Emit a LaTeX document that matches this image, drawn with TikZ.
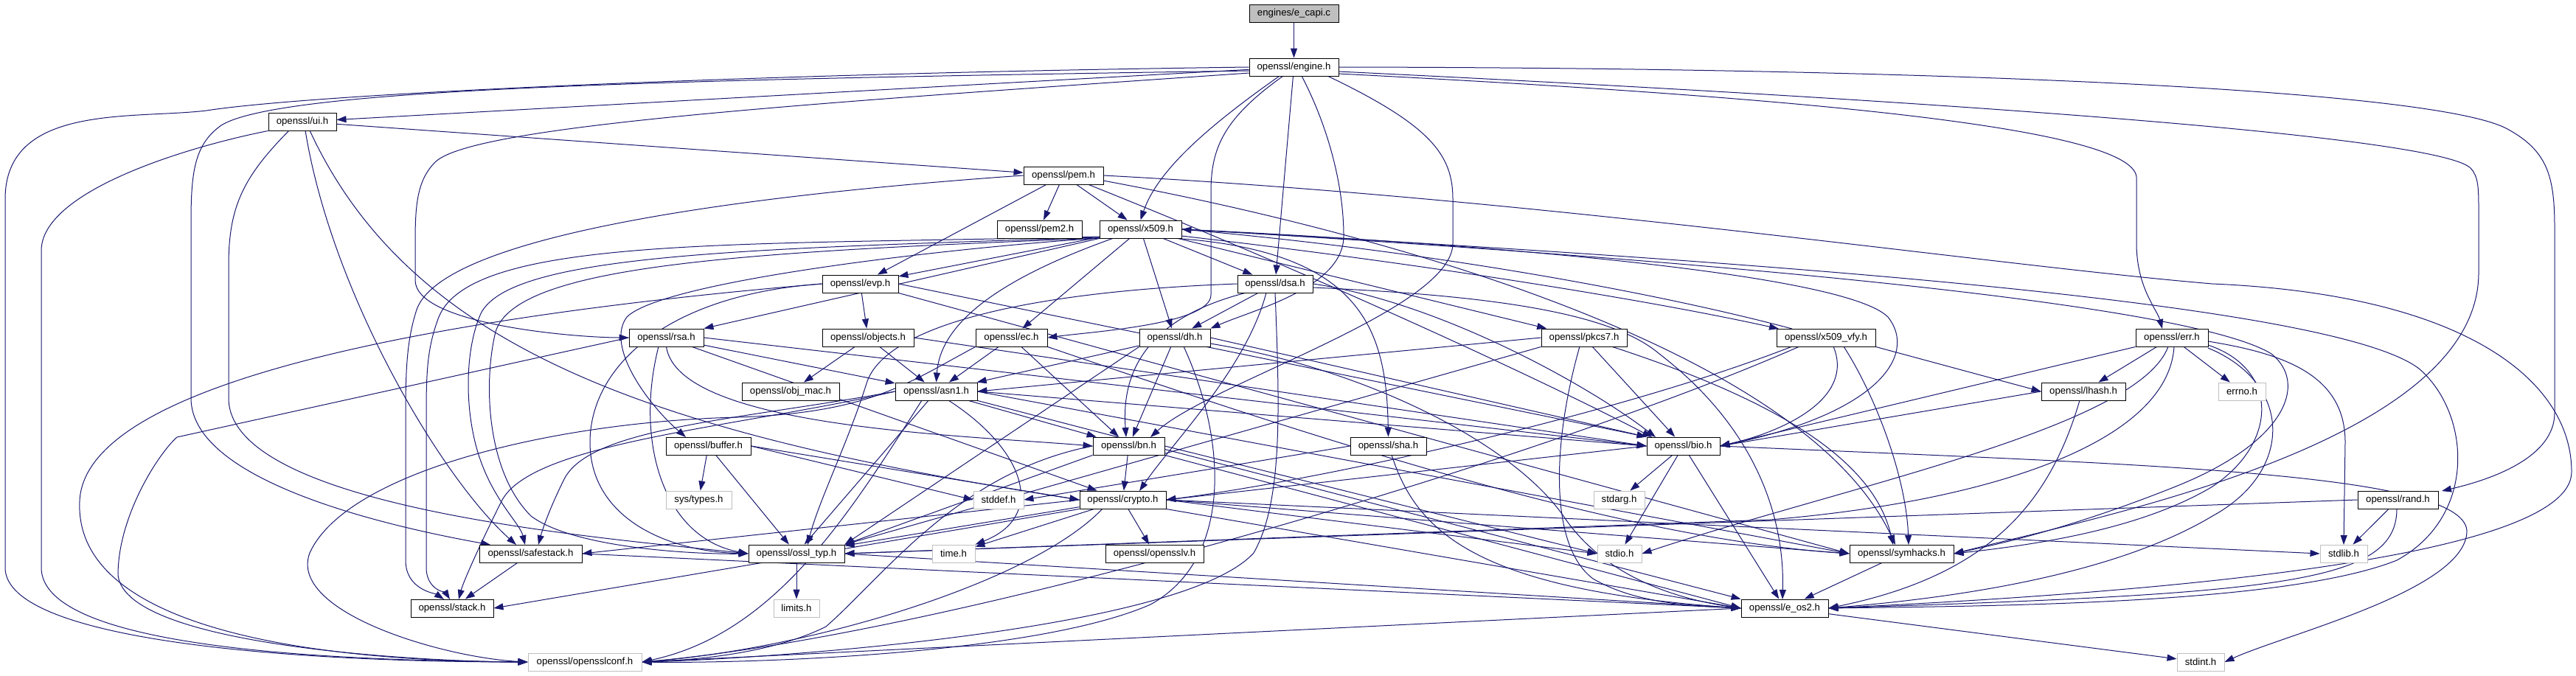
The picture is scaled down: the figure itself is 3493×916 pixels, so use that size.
\documentclass[tikz,border=0pt]{standalone}
\usepackage{fontspec}
\setmainfont{Liberation Sans}
\usetikzlibrary{arrows.meta}
\definecolor{edgec}{HTML}{191970}
\definecolor{lgray}{HTML}{BFBFBF}
\pgfdeclarelayer{bg}
\pgfsetlayers{bg,main}
\tikzset{
  nbox/.style={draw=black, line width=0.9pt, fill=white, minimum height=24pt, inner sep=0pt, font=\fontsize{13.2}{15}\selectfont},
  sysbox/.style={nbox, draw=lgray},
  rootbox/.style={nbox, fill=lgray},
  lnk/.style={draw=edgec, line width=1.0pt, -{Triangle[length=13pt,width=9pt]}},
}
\newcommand\mknode[6]{\node[#6, minimum width=#4pt] (#1) at (#2,#3) {#5};}
\begin{document}
\begin{tikzpicture}[x=1pt,y=-1pt]
\useasboundingbox (0,0) rectangle (3493,916);
% nodes
\mknode{capi}{1754.5}{18}{121}{engines/e\_capi.c}{rootbox}
\mknode{engine}{1754.5}{91}{121}{openssl/engine.h}{nbox}
\mknode{ui}{410}{165}{92}{openssl/ui.h}{nbox}
\mknode{pem}{1442}{238}{108}{openssl/pem.h}{nbox}
\mknode{pemtwo}{1409.5}{311}{115}{openssl/pem2.h}{nbox}
\mknode{xfive}{1546.5}{311}{111}{openssl/x509.h}{nbox}
\mknode{evp}{1166.5}{385}{103}{openssl/evp.h}{nbox}
\mknode{dsa}{1729}{385}{102}{openssl/dsa.h}{nbox}
\mknode{rsa}{903.5}{458}{101}{openssl/rsa.h}{nbox}
\mknode{objects}{1177}{458}{124}{openssl/objects.h}{nbox}
\mknode{ec}{1371.5}{458}{97}{openssl/ec.h}{nbox}
\mknode{dh}{1593}{458}{96}{openssl/dh.h}{nbox}
\mknode{pkcs}{2148}{458}{116}{openssl/pkcs7.h}{nbox}
\mknode{xvfy}{2476}{458}{134}{openssl/x509\_vfy.h}{nbox}
\mknode{err}{2945}{458}{98}{openssl/err.h}{nbox}
\mknode{objmac}{1072}{531}{132}{openssl/obj\_mac.h}{nbox}
\mknode{asn}{1269.5}{531}{111}{openssl/asn1.h}{nbox}
\mknode{lhash}{2825}{531}{114}{openssl/lhash.h}{nbox}
\mknode{errno}{3040}{531}{64}{errno.h}{sysbox}
\mknode{buffer}{960.5}{605}{115}{openssl/buffer.h}{nbox}
\mknode{bn}{1530.5}{605}{97}{openssl/bn.h}{nbox}
\mknode{sha}{1882.5}{605}{103}{openssl/sha.h}{nbox}
\mknode{bio}{2282.5}{605}{99}{openssl/bio.h}{nbox}
\mknode{systypes}{947.5}{678}{89}{sys/types.h}{sysbox}
\mknode{stddef}{1354}{678}{68}{stddef.h}{sysbox}
\mknode{crypto}{1522.5}{678}{117}{openssl/crypto.h}{nbox}
\mknode{stdarg}{2195.5}{678}{69}{stdarg.h}{sysbox}
\mknode{rand}{3251.5}{678}{109}{openssl/rand.h}{nbox}
\mknode{safestack}{719.5}{751}{139}{openssl/safestack.h}{nbox}
\mknode{osslt}{1080}{751}{130}{openssl/ossl\_typ.h}{nbox}
\mknode{time}{1293}{751}{58}{time.h}{sysbox}
\mknode{opensslv}{1565.5}{751}{133}{openssl/opensslv.h}{nbox}
\mknode{stdio}{2196}{751}{60}{stdio.h}{sysbox}
\mknode{symhacks}{2578.5}{751}{141}{openssl/symhacks.h}{nbox}
\mknode{stdlib}{3178}{751}{64}{stdlib.h}{sysbox}
\mknode{stack}{613}{825}{112}{openssl/stack.h}{nbox}
\mknode{limits}{1080}{825}{62}{limits.h}{sysbox}
\mknode{eos}{2420}{825}{118}{openssl/e\_os2.h}{nbox}
\mknode{conf}{793}{898}{154}{openssl/opensslconf.h}{sysbox}
\mknode{stdint}{2984}{898}{64}{stdint.h}{sysbox}
\begin{pgfonlayer}{bg}
\fill[white] (0,0) rectangle (3493,916);
% root
\draw[lnk] (capi) -- (engine);
% engine
\draw[lnk] (engine) -- (ui);
\draw[lnk] (engine.west) .. controls (1000,100) and (420,128) .. (280,150) .. controls (180,162) and (7,140) .. (7,270) -- (7,770) .. controls (7,870) and (400,898) .. (conf.west);
\draw[lnk] (1694,96) .. controls (900,108) and (380,120) .. (300,170) .. controls (265,195) and (259,230) .. (259,300) -- (259,540) .. controls (259,660) and (560,720) .. (665,739);
\draw[lnk] (1694,99) .. controls (1100,140) and (640,170) .. (590,220) .. controls (565,245) and (563,280) .. (563,330) -- (563,380) .. controls (563,440) and (780,458) .. (rsa.west);
\draw[lnk] (1735,103) .. controls (1640,170) and (1570,230) .. (xfive.north);
\draw[lnk] (1740,103) .. controls (1660,160) and (1642,200) .. (1642,260) -- (1642,400) .. controls (1642,440) and (1480,450) .. (ec.east);
\draw[lnk] (engine) -- (dsa);
\draw[lnk] (1765,103) .. controls (1800,170) and (1822,250) .. (1822,320) .. controls (1822,390) and (1700,420) .. (dh.north east);
\draw[lnk] (1800,103) .. controls (1940,170) and (1970,210) .. (1970,270) -- (1970,330) .. controls (1970,420) and (1640,520) .. (1560,593);
\draw[lnk] (engine.east) .. controls (2600,92) and (3300,120) .. (3400,175) .. controls (3455,205) and (3464,240) .. (3464,310) -- (3464,560) .. controls (3464,620) and (3380,650) .. (3311,666);
\draw[lnk] (1815,97) .. controls (2500,130) and (3300,180) .. (3350,228) .. controls (3361,240) and (3361,255) .. (3361,290) -- (3361,370) .. controls (3361,600) and (2850,700) .. (symhacks.east);
\draw[lnk] (1815,100) .. controls (2400,130) and (2890,170) .. (2897,240) -- (2897,330) .. controls (2897,390) and (2925,420) .. (2932,446);
% ui
\draw[lnk] (ui) -- (pem);
\draw[lnk] (ui.south west) .. controls (250,200) and (56,260) .. (56,340) -- (56,770) .. controls (56,880) and (450,896) .. (conf.west);
\draw[lnk] (392,177) .. controls (330,240) and (310,280) .. (310,360) -- (310,540) .. controls (310,690) and (820,730) .. (osslt.west);
\draw[lnk] (414,177) .. controls (450,400) and (600,650) .. (700,739);
\draw[lnk] (420,177) .. controls (560,480) and (900,590) .. (crypto.west);
% pem
\draw[lnk] (pem.west) .. controls (1000,265) and (600,320) .. (565,420) .. controls (552,460) and (550,500) .. (550,560) -- (550,760) .. controls (550,800) and (590,805) .. (602,813);
\draw[lnk] (pem) -- (pemtwo);
\draw[lnk] (pem) -- (xfive);
\draw[lnk] (pem) -- (evp);
\draw[lnk] (pem.east) .. controls (2100,270) and (2700,360) .. (3000,385) .. controls (3350,400) and (3487,520) .. (3487,640) .. controls (3487,760) and (2900,805) .. (eos.east);
\draw[lnk] (1475,250) .. controls (1800,380) and (2100,520) .. (2240,593);
\draw[lnk] (1496,245) .. controls (1900,320) and (2450,480) .. (2570,739);
% x509
\draw[lnk] (xfive) -- (evp);
\draw[lnk] (xfive.south west) -- (rsa.north east);
\draw[lnk] (xfive) -- (dsa);
\draw[lnk] (xfive) -- (dh);
\draw[lnk] (xfive) -- (ec);
\draw[lnk] (1510,323) .. controls (1350,380) and (1275,440) .. (asn.north);
\draw[lnk] (xfive) -- (pkcs);
\draw[lnk] (1590,323) .. controls (1850,340) and (1880,450) .. (sha.north);
\draw[lnk] (1602,320) .. controls (1950,360) and (2250,410) .. (2412,446);
\draw[lnk] (2430,446) .. controls (2250,398) and (1950,342) .. (xfive.east);
\draw[lnk] (1491,323) .. controls (1300,335) and (900,380) .. (850,430) .. controls (820,470) and (880,550) .. (930,593);
\draw[lnk] (1491,321) .. controls (1000,333) and (640,320) .. (595,430) .. controls (580,470) and (578,500) .. (578,560) -- (578,770) .. controls (578,800) and (605,805) .. (610,813);
\draw[lnk] (1491,322) .. controls (1000,338) and (680,345) .. (650,430) .. controls (630,480) and (630,560) .. (650,620) .. controls (670,680) and (705,710) .. (712,739);
\draw[lnk] (1491,323) .. controls (1000,342) and (700,360) .. (672,450) .. controls (655,520) and (660,640) .. (720,700) .. controls (780,745) and (950,752) .. (osslt.west);
\draw[lnk] (xfive.east) .. controls (2000,330) and (2500,370) .. (2560,430) .. controls (2600,480) and (2550,560) .. (bio.east);
\draw[lnk] (xfive.east) .. controls (2100,340) and (2950,400) .. (3080,480) .. controls (3130,520) and (3100,600) .. (2950,660) .. controls (2800,720) and (2700,740) .. (symhacks.east);
\draw[lnk] (xfive.east) .. controls (2200,345) and (3150,400) .. (3280,500) .. controls (3350,560) and (3360,700) .. (3250,760) .. controls (3100,820) and (2700,822) .. (eos.east);
% x509_vfy
\draw[lnk] (2440,470) .. controls (2100,620) and (1300,860) .. (conf.east);
\draw[lnk] (2430,470) .. controls (2200,560) and (1800,650) .. (crypto.east);
\draw[lnk] (xvfy.south east) -- (lhash.west);
\draw[lnk] (2486,470) .. controls (2515,540) and (2420,585) .. (bio.east);
\draw[lnk] (2500,470) .. controls (2545,540) and (2585,650) .. (2588,739);
% pkcs7
\draw[lnk] (pkcs.west) -- (asn.east);
\draw[lnk] (pkcs.south west) -- (osslt.north east);
\draw[lnk] (pkcs) -- (bio);
\draw[lnk] (2142,470) .. controls (2105,600) and (2100,740) .. (2160,785) .. controls (2220,820) and (2300,822) .. (eos.west);
\draw[lnk] (2185,470) .. controls (2400,540) and (2540,620) .. (2567,739);
% dsa
\draw[lnk] (dsa) -- (dh);
\draw[lnk] (1690,397) .. controls (1560,430) and (1520,500) .. (1527,593);
\draw[lnk] (1717,397) .. controls (1690,500) and (1590,600) .. (1545,666);
\draw[lnk] (dsa.west) .. controls (1400,395) and (1200,440) .. (1175,520) .. controls (1150,600) and (1110,680) .. (1095,739);
\draw[lnk] (dsa.east) .. controls (1950,410) and (2150,520) .. (2245,593);
\draw[lnk] (1780,390) .. controls (2000,400) and (2180,420) .. (2250,480) .. controls (2380,580) and (2420,700) .. (2417,813);
\draw[lnk] (dsa.south) .. controls (1735,550) and (1740,680) .. (1700,750) .. controls (1600,860) and (1000,895) .. (conf.east);
% dh
\draw[lnk] (dh) -- (asn);
\draw[lnk] (dh) -- (bn);
\draw[lnk] (dh.south west) -- (osslt.north east);
\draw[lnk] (1605,470) .. controls (1665,600) and (1670,760) .. (1560,820) .. controls (1400,890) and (1000,900) .. (conf.east);
\draw[lnk] (dh.east) -- (bio.north west);
\draw[lnk] (1641,466) .. controls (1850,500) and (2050,600) .. (2120,700) .. controls (2180,790) and (2290,815) .. (eos.west);
% ec
\draw[lnk] (ec) -- (asn);
\draw[lnk] (ec) -- (bn);
\draw[lnk] (ec.south east) .. controls (1800,600) and (2200,730) .. (symhacks.west);
\draw[lnk] (ec.south west) .. controls (1230,520) and (1180,560) .. (1000,566) .. controls (750,572) and (470,640) .. (420,750) .. controls (390,830) and (600,892) .. (conf.west);
% rsa
\draw[lnk] (rsa) -- (asn);
\draw[lnk] (rsa.south) .. controls (920,580) and (1300,590) .. (bn.west);
\draw[lnk] (rsa) -- (crypto);
\draw[lnk] (rsa.east) -- (bio.west);
\draw[lnk] (893,470) .. controls (860,600) and (900,730) .. (osslt.west);
\draw[lnk] (rsa.west) -- (240,593) .. controls (215,615) and (160,700) .. (160,780) .. controls (170,880) and (600,898) .. (conf.west);
% evp
\draw[lnk] (evp) -- (objects);
\draw[lnk] (evp.west) .. controls (700,420) and (115,500) .. (108,680) .. controls (100,860) and (450,897) .. (conf.west);
\draw[lnk] (evp.west) .. controls (900,400) and (800,500) .. (800,600) .. controls (800,700) and (900,748) .. (osslt.west);
\draw[lnk] (evp.east) -- (bio.north west);
\draw[lnk] (evp.south east) -- (symhacks.west);
% objects
\draw[lnk] (objects) -- (objmac);
\draw[lnk] (objects) -- (asn);
\draw[lnk] (objects.east) -- (bio.west);
% asn1
\draw[lnk] (asn) -- (bn);
\draw[lnk] (asn) -- (osslt);
\draw[lnk] (1286,543) .. controls (1390,610) and (1420,700) .. (time.north east);
\draw[lnk] (asn.east) -- (bio.west);
\draw[lnk] (asn.south east) -- (eos.north west);
\draw[lnk] (asn.west) .. controls (1000,570) and (800,580) .. (765,650) .. controls (745,690) and (735,720) .. (730,739);
\draw[lnk] (asn.west) .. controls (1000,580) and (720,600) .. (680,680) .. controls (650,740) and (628,790) .. (622,813);
\draw[lnk] (asn.east) -- (symhacks.west);
\draw[lnk] (1250,543) .. controls (1150,700) and (1050,860) .. (conf.east);
% bio
\draw[lnk] (bio) -- (stdarg);
\draw[lnk] (bio) -- (stdio);
\draw[lnk] (bio) -- (eos);
\draw[lnk] (bio.west) -- (crypto.east);
\draw[lnk] (bio.east) .. controls (2900,630) and (3340,640) .. (3345,720) .. controls (3345,800) and (3100,860) .. (stdint.east);
% crypto
\draw[lnk] (crypto) -- (osslt);
\draw[lnk] (crypto) -- (time);
\draw[lnk] (crypto) -- (opensslv);
\draw[lnk] (crypto.east) -- (stdio.west);
\draw[lnk] (crypto.east) -- (stdlib.west);
\draw[lnk] (crypto.east) -- (symhacks.west);
\draw[lnk] (crypto.south east) -- (eos.west);
\draw[lnk] (crypto.south west) -- (stack.east);
\draw[lnk] (crypto.west) -- (safestack.east);
\draw[lnk] (1495,690) .. controls (1400,790) and (1100,880) .. (conf.east);
% bn
\draw[lnk] (bn) -- (crypto);
\draw[lnk] (bn.south west) -- (osslt.north east);
\draw[lnk] (bn.west) .. controls (1300,640) and (1200,780) .. (1120,850) .. controls (1050,885) and (950,895) .. (conf.east);
\draw[lnk] (bn.east) -- (stdio.west);
\draw[lnk] (bn.south east) -- (eos.west);
% buffer
\draw[lnk] (buffer) -- (systypes);
\draw[lnk] (buffer) -- (osslt);
\draw[lnk] (buffer.east) -- (stddef.west);
\draw[lnk] (buffer.east) -- (crypto.west);
% sha
\draw[lnk] (sha.west) -- (stddef.east);
\draw[lnk] (1887,617) .. controls (1920,720) and (2000,800) .. (eos.west);
% safestack
\draw[lnk] (safestack) -- (stack);
\draw[lnk] (safestack.east) -- (eos.west);
% ossl_typ
\draw[lnk] (osslt) -- (limits);
\draw[lnk] (osslt.east) -- (eos.west);
% e_os2
\draw[lnk] (eos.west) -- (conf.east);
\draw[lnk] (eos) -- (stdint);
% symhacks
\draw[lnk] (symhacks) -- (eos);
% lhash
\draw[lnk] (lhash.west) -- (bio.east);
\draw[lnk] (2820,543) .. controls (2780,680) and (2700,780) .. (eos.east);
% err
\draw[lnk] (err) -- (lhash);
\draw[lnk] (err) -- (errno);
\draw[lnk] (err.south west) -- (bio.east);
\draw[lnk] (2940,470) .. controls (2900,580) and (2500,660) .. (stdio.east);
\draw[lnk] (2948,470) .. controls (2940,600) and (2700,680) .. (2400,705) -- (osslt.east);
\draw[lnk] (2994,468) .. controls (3090,500) and (3090,600) .. (3000,660) .. controls (2900,720) and (2750,740) .. (symhacks.east);
\draw[lnk] (2994,472) .. controls (3110,520) and (3110,640) .. (3000,700) .. controls (2850,790) and (2600,815) .. (eos.east);
\draw[lnk] (2994,463) .. controls (3100,480) and (3180,510) .. (3180,600) -- (3178,739);
% rand
\draw[lnk] (rand) -- (stdlib);
\draw[lnk] (rand.west) -- (osslt.east);
\draw[lnk] (3250,690) .. controls (3250,790) and (3100,805) .. (eos.east);
\end{pgfonlayer}
\end{tikzpicture}
\end{document}
